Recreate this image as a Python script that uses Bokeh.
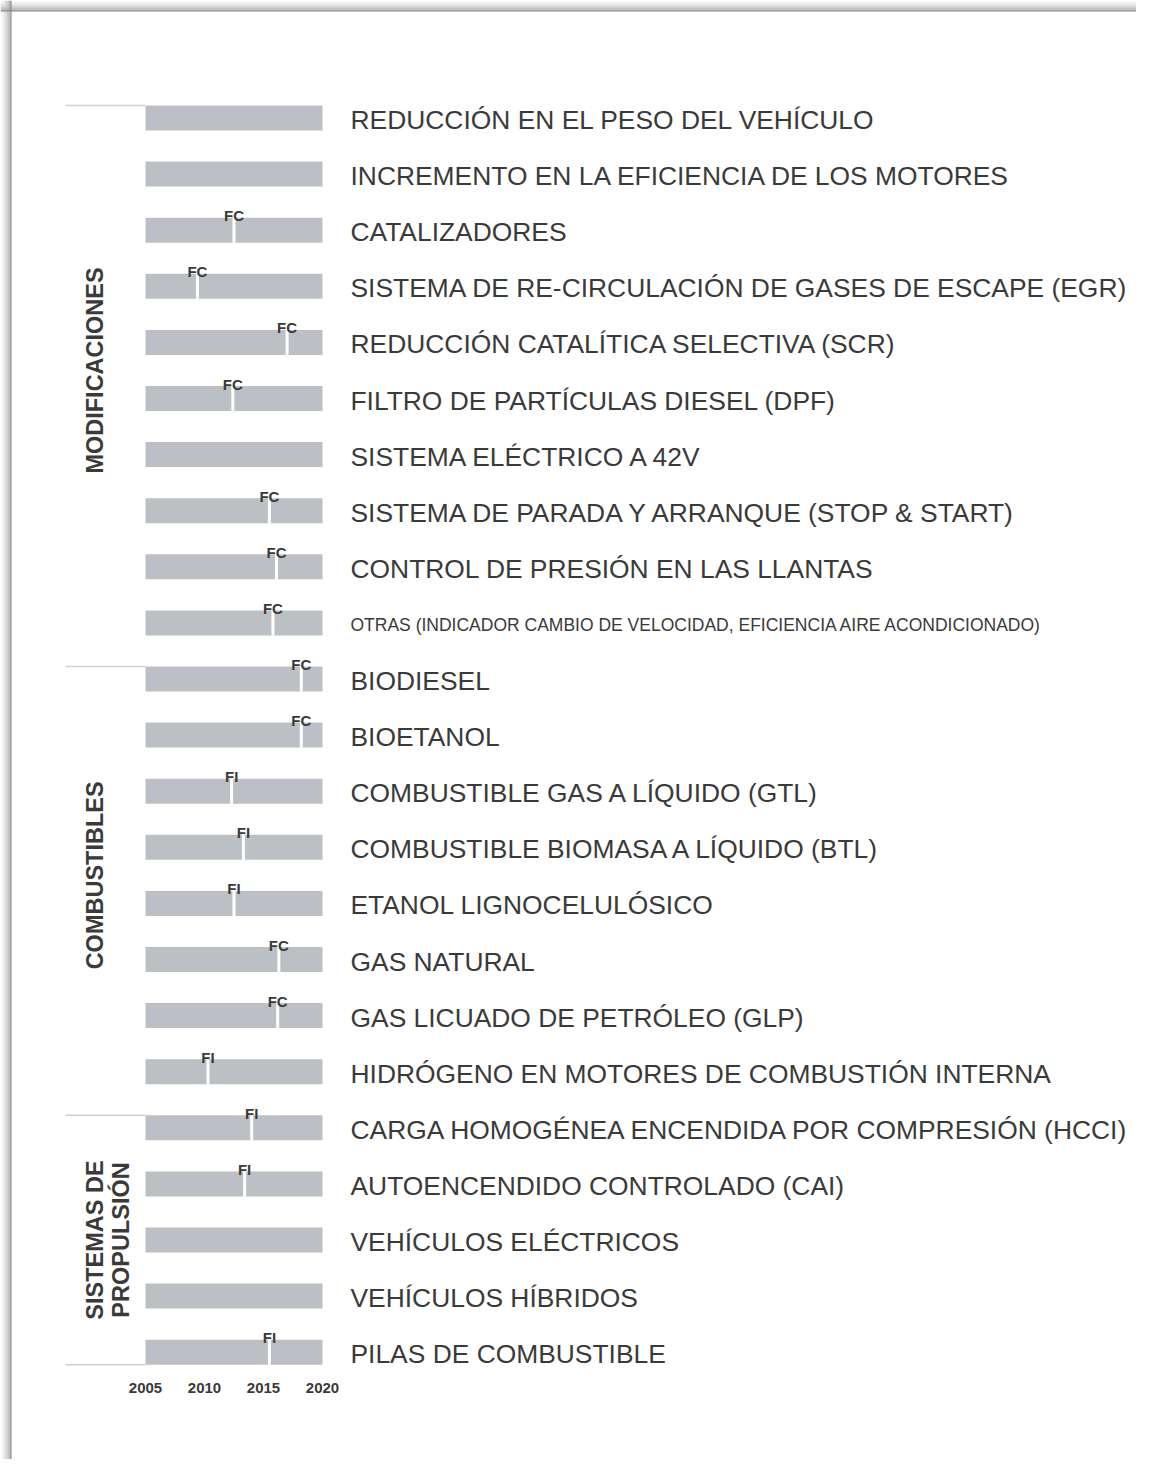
import math
from bokeh.plotting import figure
from bokeh.models import Range1d, ColumnDataSource, Span
from bokeh.core.properties import value
from bokeh.embed import file_html
from bokeh.resources import INLINE

# ---------------- data ----------------
labels = [
    "REDUCCIÓN EN EL PESO DEL VEHÍCULO",
    "INCREMENTO EN LA EFICIENCIA DE LOS MOTORES",
    "CATALIZADORES",
    "SISTEMA DE RE-CIRCULACIÓN DE GASES DE ESCAPE (EGR)",
    "REDUCCIÓN CATALÍTICA SELECTIVA (SCR)",
    "FILTRO DE PARTÍCULAS DIESEL (DPF)",
    "SISTEMA ELÉCTRICO A 42V",
    "SISTEMA DE PARADA Y ARRANQUE (STOP & START)",
    "CONTROL DE PRESIÓN EN LAS LLANTAS",
    "OTRAS (INDICADOR CAMBIO DE VELOCIDAD, EFICIENCIA  AIRE ACONDICIONADO)",
    "BIODIESEL",
    "BIOETANOL",
    "COMBUSTIBLE GAS A LÍQUIDO (GTL)",
    "COMBUSTIBLE BIOMASA A LÍQUIDO (BTL)",
    "ETANOL LIGNOCELULÓSICO",
    "GAS NATURAL",
    "GAS LICUADO DE PETRÓLEO (GLP)",
    "HIDRÓGENO EN MOTORES DE COMBUSTIÓN INTERNA",
    "CARGA HOMOGÉNEA ENCENDIDA POR COMPRESIÓN (HCCI)",
    "AUTOENCENDIDO CONTROLADO (CAI)",
    "VEHÍCULOS ELÉCTRICOS",
    "VEHÍCULOS HÍBRIDOS",
    "PILAS DE COMBUSTIBLE",
]
marker_year = [None, None, 2012.5, 2009.4, 2017.0, 2012.4, None, 2015.5, 2016.1,
               2015.8, 2018.2, 2018.2, 2012.3, 2013.3, 2012.5, 2016.3, 2016.2,
               2010.3, 2014.0, 2013.4, None, None, 2015.5]
marker_type = ["", "", "FC", "FC", "FC", "FC", "", "FC", "FC", "FC", "FC", "FC",
               "FI", "FI", "FI", "FC", "FC", "FI", "FI", "FI", "", "", "FI"]
small_label = [False] * 9 + [True] + [False] * 13

groups = [["MODIFICACIONES"], ["COMBUSTIBLES"], ["SISTEMAS DE", "PROPULSIÓN"]]
group_first = [0, 10, 18]
group_last = [9, 17, 22]

years = [2005, 2010, 2015, 2020]

# ---------------- layout ----------------
W, H = 1136, 1459
PXX = 11.8      # px per year
PXY = 56.1      # px per row
x0 = years[0] - 145 / PXX
y_top = -117.5 / PXY
y_bot = y_top + H / PXY
FONT = value("Liberation Sans")
TXT = "#3a3a3a"
BAR = "#bcc0c4"

p = figure(width=W, height=H, x_range=Range1d(x0, x0 + W / PXX),
           y_range=Range1d(start=y_bot, end=y_top),
           toolbar_location=None, output_backend="svg", min_border=0)
p.axis.visible = False
p.grid.visible = False
p.outline_line_color = None
p.background_fill_color = "white"
p.border_fill_color = "white"

# page frame (top/left edge with shadow)
shadow = ["#f4f4f4", "#eeeeee", "#e6e6e6", "#dddddd", "#d3d3d3", "#c8c8c8",
          "#bcbcbc", "#b0b0b0", "#a4a4a4", "#7c7c7c"]
for i, col in enumerate(shadow):
    off = i + 0.5 + 1
    p.add_layout(Span(location=x0 + off / PXX, dimension="height", line_color=col, line_width=1))
    p.add_layout(Span(location=y_top + off / PXY, dimension="width", line_color=col, line_width=1))

rows = list(range(len(labels)))
half = 12.5 / PXY

# bars
p.hbar(y=rows, left=years[0], right=years[-1], height=2 * half,
       fill_color=BAR, line_color=None)

# markers
m_rows = [r for r, y in zip(rows, marker_year) if y is not None]
m_x = [y for y in marker_year if y is not None]
m_t = [t for t, y in zip(marker_type, marker_year) if y is not None]
p.segment(x0=m_x, x1=m_x, y0=[r - half for r in m_rows], y1=[r + half for r in m_rows],
          line_color="white", line_width=3)
p.text(x=m_x, y=[r - half - 2 / PXY for r in m_rows], text=m_t,
       text_align="center", text_baseline="alphabetic", text_font=FONT,
       text_font_size="15px", text_font_style="bold", text_color=TXT)

# row labels
lsrc = ColumnDataSource(dict(
    x=[x0 + 350 / PXX] * len(rows),
    y=[r + 2 / PXY for r in rows],
    t=labels,
    fs=["17.5px" if s else "26.4px" for s in small_label],
))
p.text(x="x", y="y", text="t", text_font_size="fs", source=lsrc,
       text_align="left", text_baseline="middle", text_font=FONT, text_color=TXT)

# group labels
for lines, a, b in zip(groups, group_first, group_last):
    yc = (a + b) / 2
    for k, line in enumerate(lines):
        p.text(x=[x0 + (94 + 26 * k) / PXX], y=[yc], text=[line], angle=math.pi / 2,
               text_align="center", text_baseline="middle", text_font=FONT,
               text_font_size="23.5px", text_font_style="bold", text_color=TXT)

# group separators
sep_y = [a - half for a in group_first] + [group_last[-1] + half]
p.segment(x0=[x0 + 65 / PXX] * len(sep_y), x1=[years[0]] * len(sep_y),
          y0=sep_y, y1=sep_y, line_color="#cfcfcf", line_width=1.5)

# year labels
p.text(x=years, y=[len(labels) - 1 + 0.64] * len(years), text=[str(y) for y in years],
       text_align="center", text_baseline="middle", text_font=FONT,
       text_font_size="15px", text_font_style="bold", text_color=TXT)

open("out.html", "w").write(file_html(p, INLINE))
